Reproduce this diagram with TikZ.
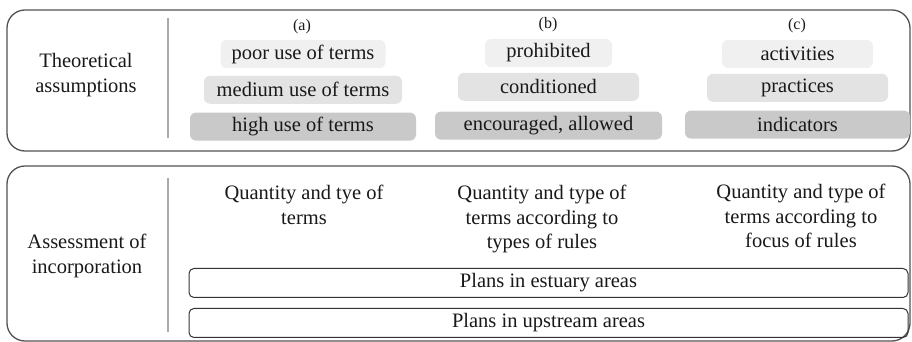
\documentclass[tikz,border=0pt]{standalone}
\usepackage{fontspec}
\setmainfont{Liberation Serif}
\usepackage{tikz}
\usetikzlibrary{positioning}

\begin{document}
\begin{tikzpicture}[
    x=0.5pt, y=-0.5pt,
    node distance=3.5pt,
    frame/.style={draw=black!68, line width=0.65pt, rounded corners=9pt},
    sepline/.style={draw=black!33, line width=0.8pt},
    cell/.style={rounded corners=3pt, minimum height=14pt, inner sep=0pt, font=\fontsize{10.25}{12.25}\selectfont, text=black!90},
    light/.style={cell, fill=gray!12},
    mid/.style={cell, fill=gray!22},
    dark/.style={cell, fill=gray!42},
    colhead/.style={font=\fontsize{8}{10}\selectfont, inner sep=0pt, text=black!90},
    side/.style={font=\fontsize{10.25}{12.25}\selectfont, align=center, inner sep=0pt, text=black!90},
    measure/.style={side, anchor=north},
    plan/.style={draw=black!80, line width=0.5pt, rounded corners=2.5pt, minimum width=359.5pt, minimum height=14.5pt, inner sep=0pt, font=\fontsize{10.25}{12.25}\selectfont, text=black!90},
]
\useasboundingbox (0,0) rectangle (912,342);

% Frames
\draw[frame] (7,10) rectangle (910,151);
\draw[frame] (7,166) rectangle (910,341);
\draw[sepline] (168,18) -- (168,138);
\draw[sepline] (168,178) -- (168,332);

% Row labels
\node[side] (theo) at (86,75) {Theoretical\\assumptions};
\node[side] (assess) at (87,256) {Assessment of\\incorporation};

% Column (a)
\node[colhead] (headA) at (302,27) {(a)};
\node[light, minimum width=82.5pt] (poor) at (303,54) {poor use of terms};
\node[mid, minimum width=99pt, below=3.5pt of poor] (medium) {medium use of terms};
\node[dark, minimum width=113pt, below=4pt of medium] (high) {high use of terms};

% Column (b)
\node[colhead] (headB) at (548,25) {(b)};
\node[light, minimum width=63.5pt] (prohib) at (548.5,53) {prohibited};
\node[mid, minimum width=90.5pt, below=2.5pt of prohib] (cond) {conditioned};
\node[dark, minimum width=113.5pt, below=5pt of cond] (encour) {encouraged, allowed};

% Column (c)
\node[colhead] (headC) at (797,26) {(c)};
\node[light, minimum width=75.5pt] (activ) at (797.5,54) {activities};
\node[mid, minimum width=90.5pt, below=2.5pt of activ] (pract) {practices};
\node[dark, minimum width=112.5pt, below=4pt of pract] (indic) {indicators};

% Assessment
\node[measure] (qtyA) at (304,185) {Quantity and tye of\\terms};
\node[measure] (qtyB) at (542,185) {Quantity and type of\\terms according to\\types of rules};
\node[measure] (qtyC) at (801,184) {Quantity and type of\\terms according to\\focus of rules};

% Plans
\node[plan] (estuary) at (548.5,283) {Plans in estuary areas};
\node[plan, below=5pt of estuary] (upstream) {Plans in upstream areas};

\end{tikzpicture}
\end{document}
